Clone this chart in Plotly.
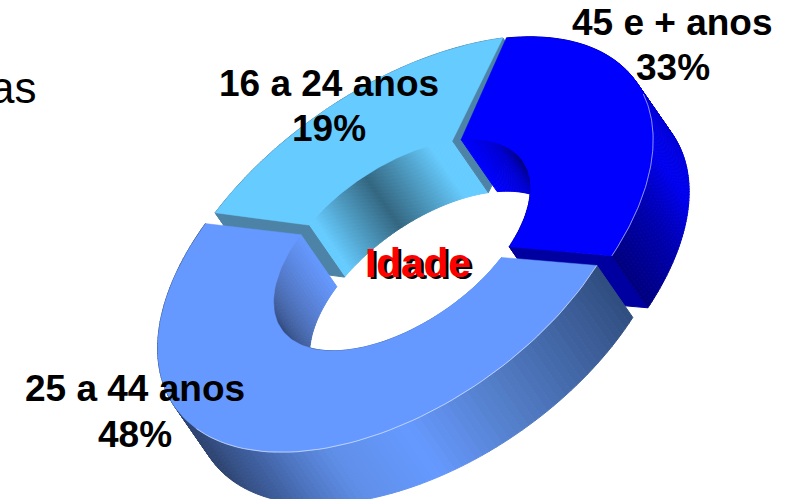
import math
import plotly.graph_objects as go

categories = ["45 e + anos", "25 a 44 anos", "16 a 24 anos"]
shares = [33, 48, 19]
share_labels = ["33%", "48%", "19%"]
top_colors = ["#0000FF", "#6699FF", "#66CCFF"]
end_colors = ["#0000A0", "#33507F", "#4D83A6"]
outer_stops = [
    [(0, "#000080"), (0.25, "#000090"), (0.45, "#0000D0"), (0.7, "#0000F0"), (0.85, "#0000B0"), (1, "#000080")],
    [(0, "#304D7F"), (0.2, "#5580CC"), (0.3, "#6699FF"), (0.4, "#5F8FE8"), (0.52, "#3F5F9F"), (0.62, "#2F4674"), (1, "#2F4674")],
    [(0, "#4D83A6"), (1, "#4D83A6")],
]
inner_stops = [
    [(0, "#0000FF"), (0.2, "#0000D0"), (0.5, "#000050"), (1, "#000050")],
    [(0, "#6699FF"), (0.53, "#2F4674"), (0.72, "#334C80"), (0.85, "#4D70B8"), (1, "#6699FF")],
    [(0, "#66CCFF"), (0.05, "#66CCFF"), (0.43, "#336680"), (0.85, "#66CCFF"), (1, "#66CCFF")],
]

DEPTH = (36, 52)
OUT = [dict(c=(406, 243), a=281, b=157, tilt=35),
       dict(c=(396, 252), a=270, b=155, tilt=35),
       dict(c=(409, 243), a=283, b=157, tilt=35)]
INN = dict(c=(402, 245), a=147, b=78, tilt=35)
start_out = [-44.7, 54.5, 240.0]
stretch_out = [0.839, 1.0666, 1.073]
start_inn = [-42.2, 59.6, 243.7]
stretch_inn = [0.808, 1.035, 1.02]
# which radial end faces of each slice look towards the viewer (start, end)
end_faces = [(False, True), (False, False), (True, True)]


def pt(ell, th, dep=0.0):
    t = math.radians(ell["tilt"])
    u = (math.cos(t), -math.sin(t))
    v = (math.sin(t), math.cos(t))
    c, s = math.cos(math.radians(th)), math.sin(math.radians(th))
    return (ell["c"][0] + ell["a"] * c * u[0] + ell["b"] * s * v[0] + dep * DEPTH[0],
            ell["c"][1] + ell["a"] * c * u[1] + ell["b"] * s * v[1] + dep * DEPTH[1])


def mix(stops, f):
    for (f0, c0), (f1, c1) in zip(stops, stops[1:]):
        if f <= f1:
            k = (f - f0) / (f1 - f0 or 1)
            a = [int(c0[i:i + 2], 16) for i in (1, 3, 5)]
            b = [int(c1[i:i + 2], 16) for i in (1, 3, 5)]
            return "rgb(%d,%d,%d)" % tuple(round(x + (y - x) * k) for x, y in zip(a, b))
    return stops[-1][1]


fig = go.Figure()


def poly(points, color, lw=1.0):
    xs = [p[0] for p in points] + [points[0][0]]
    ys = [p[1] for p in points] + [points[0][1]]
    fig.add_trace(go.Scatter(x=xs, y=ys, mode="lines", fill="toself", fillcolor=color,
                             line=dict(color=color, width=lw), hoverinfo="skip", showlegend=False))


def wall(ell, t0, t1, stops, n=110):
    for i in range(n):
        a = t0 + (t1 - t0) * i / n
        b = t0 + (t1 - t0) * (i + 1) / n
        poly([pt(ell, a), pt(ell, b), pt(ell, b, 1), pt(ell, a, 1)], mix(stops, (i + .5) / n))


for idx in [2, 0, 1]:
    to0 = start_out[idx]
    to1 = to0 + shares[idx] * 3.6 * stretch_out[idx]
    ti0 = start_inn[idx]
    ti1 = ti0 + shares[idx] * 3.6 * stretch_inn[idx]
    out = OUT[idx]
    wall(INN, ti0, ti1, inner_stops[idx])
    if end_faces[idx][0]:
        poly([pt(INN, ti0), pt(out, to0), pt(out, to0, 1), pt(INN, ti0, 1)], end_colors[idx])
    if end_faces[idx][1]:
        poly([pt(INN, ti1), pt(out, to1), pt(out, to1, 1), pt(INN, ti1, 1)], end_colors[idx])
    wall(out, to0, to1, outer_stops[idx])
    n = 90
    face = [pt(out, to0 + (to1 - to0) * i / n) for i in range(n + 1)]
    face += [pt(INN, ti1 + (ti0 - ti1) * i / n) for i in range(n + 1)]
    poly(face, top_colors[idx], lw=0.5)
    if idx < 2:
        f0, f1 = (0.0, 0.62) if idx == 1 else (0.5, 1.0)
        rim = [pt(out, to0 + (to1 - to0) * (f0 + (f1 - f0) * i / 60)) for i in range(61)]
        fig.add_trace(go.Scatter(x=[p[0] for p in rim], y=[p[1] for p in rim], mode="lines",
                                 line=dict(color="rgba(255,255,255,0.7)", width=0.8),
                                 hoverinfo="skip", showlegend=False))

FONT = "Liberation Sans"
BLACK = dict(family=FONT, size=37, color="#000000", weight="bold")
name_pos = [(672.5, 22), (135, 388), (328.5, 83)]
pct_pos = [(673, 67), (134.5, 434), (329, 128)]
for t, (x, y) in zip(categories, name_pos):
    fig.add_annotation(x=x, y=y, text=t, showarrow=False, font=BLACK)
for t, (x, y) in zip(share_labels, pct_pos):
    fig.add_annotation(x=x, y=y, text=t, showarrow=False, font=BLACK)
fig.add_annotation(x=38, y=87, text="as", showarrow=False, xanchor="right", yanchor="middle",
                   font=dict(family=FONT, size=44, color="#000000"))
fig.add_annotation(x=420.5, y=265, text="Idade", showarrow=False,
                   font=dict(family=FONT, size=40.5, color="#000000", weight="bold"))
fig.add_annotation(x=418, y=262.5, text="Idade", showarrow=False,
                   font=dict(family=FONT, size=40.5, color="#FF0000", weight="bold"))

fig.update_layout(width=792, height=499, margin=dict(l=0, r=0, t=0, b=0),
                  paper_bgcolor="white", plot_bgcolor="white", showlegend=False,
                  xaxis=dict(range=[0, 792], visible=False, fixedrange=True),
                  yaxis=dict(range=[499, 0], visible=False, fixedrange=True))
fig.write_html("out.html", config={"displayModeBar": False},
               post_script="document.body.style.margin='0';document.body.style.overflow='hidden';")
